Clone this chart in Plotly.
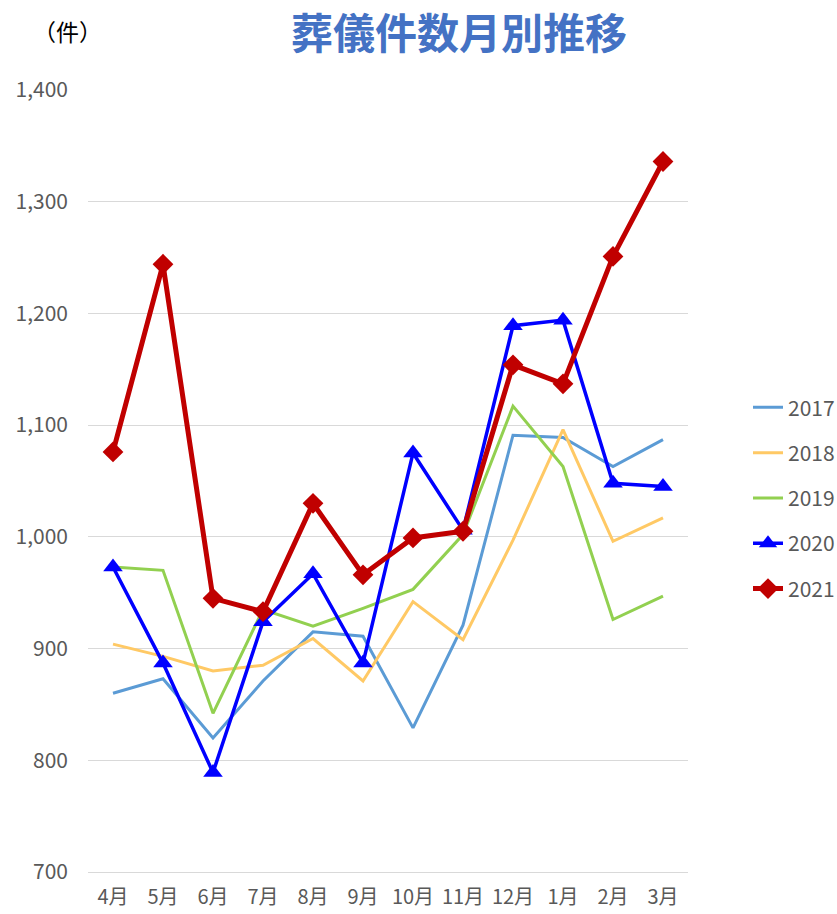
import plotly.graph_objects as go

# 月別の葬儀件数（年度：4月〜翌3月）
months = ["4月", "5月", "6月", "7月", "8月", "9月", "10月", "11月", "12月", "1月", "2月", "3月"]

y2017 = [860, 873, 820, 871, 915, 911, 829, 921, 1091, 1089, 1063, 1087]
y2018 = [904, 893, 880, 885, 909, 871, 942, 908, 997, 1096, 996, 1017]
y2019 = [973, 970, 842, 935, 920, 936, 953, 1002, 1117, 1063, 926, 947]
y2020 = [973, 887, 789, 924, 967, 887, 1075, 1006, 1189, 1194, 1048, 1045]
y2021 = [1076, 1244, 945, 933, 1030, 966, 999, 1005, 1154, 1137, 1251, 1336]

years = ["2017", "2018", "2019", "2020", "2021"]
colors = ["#5B9BD5", "#FFC965", "#92D050", "#0000FF", "#C00000"]

FONT = "Noto Sans CJK JP"
GRAY = "#595959"

fig = go.Figure()

series = [y2017, y2018, y2019, y2020, y2021]
for name, vals, col in zip(years, series, colors):
    kw = dict(mode="lines")
    width = 3
    if name == "2020":
        kw = dict(mode="lines+markers", marker=dict(symbol="triangle-up", size=17, color=col))
        width = 3.5
    elif name == "2021":
        kw = dict(mode="lines+markers", marker=dict(symbol="diamond", size=16, color=col))
        width = 5
    fig.add_trace(go.Scatter(
        x=months, y=vals, name=name, legendgroup=name,
        line=dict(color=col, width=width), **kw,
    ))

fig.update_layout(
    width=837, height=914,
    margin=dict(l=88, r=149, t=90, b=42, autoexpand=False),
    paper_bgcolor="white", plot_bgcolor="white",
    font=dict(family=FONT, color=GRAY, size=19),
    showlegend=True,
    legend=dict(
        xref="container", x=748 / 837, xanchor="left",
        y=0.478, yanchor="middle",
        traceorder="grouped", tracegroupgap=15,
        font=dict(family=FONT, size=21, color=GRAY),
        bgcolor="rgba(0,0,0,0)",
    ),
    annotations=[
        dict(text="<b>葬儀件数月別推移</b>", xref="paper", yref="paper",
             x=(459 - 88) / 600, y=1.0 + (90 - 31) / 782, xanchor="center", yanchor="middle",
             showarrow=False, font=dict(family=FONT, size=42, color="#4472C4")),
        dict(text="（件）", xref="paper", yref="paper",
             x=(67 - 88) / 600, y=1.0 + (90 - 31) / 782, xanchor="center", yanchor="middle",
             showarrow=False, font=dict(family=FONT, size=23, color="#000000")),
    ],
)

fig.update_xaxes(
    type="category", range=[-0.5, 11.5], automargin=False,
    showgrid=False, showline=True, linecolor="#D9D9D9", linewidth=1,
    ticks="", tickfont=dict(family=FONT, size=20, color=GRAY), ticklabelstandoff=7,
)
fig.update_yaxes(
    range=[700, 1400], dtick=100, tickformat=",", automargin=False,
    showgrid=True, gridcolor="#D9D9D9", gridwidth=1, zeroline=False, showline=False, ticks="",
    tickfont=dict(family=FONT, size=21, color=GRAY), ticklabelstandoff=19,
)

fig.write_html("out.html")
